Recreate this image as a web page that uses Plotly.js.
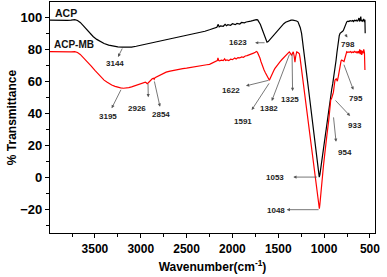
<!DOCTYPE html>
<html><head><meta charset="utf-8">
<script src="https://cdn.plot.ly/plotly-3.0.1.min.js"></script>
<style>html,body{margin:0;padding:0;background:#fff}#chart{width:387px;height:277px}</style>
</head><body><div id="chart"></div>
<script>
// ACP (black) spectrum
const acpWn = [3990,3900,3800,3760,3720,3690,3660,3630,3600,3560,3520,3480,3440,3400,3350,3300,3250,3200,3144,3100,3050,3000,2950,2900,2850,2800,2750,2700,2650,2600,2550,2500,2450,2400,2350,2300,2250,2200,2170,2155,2145,2130,2100,2080,2065,2050,2020,2000,1970,1950,1920,1900,1870,1850,1820,1800,1780,1760,1740,1725,1710,1695,1680,1665,1650,1640,1630,1623,1610,1595,1580,1560,1540,1520,1500,1480,1460,1440,1420,1400,1380,1360,1340,1320,1300,1285,1270,1260,1246,1235,1220,1205,1190,1183,1170,1155,1140,1125,1110,1099,1085,1070,1060,1053,1046,1040,1030,1020,1008,995,980,964,950,943,930,917,906,899,890,880,870,860,850,845,835,826,815,805,798,790,780,770,760,753,740,730,717,700,690,680,670,660,650,640,630,620,615,610,600,595,590,580,570,560,555,552];
const acpT = [98.2,98.0,98.1,98.3,98.6,98.0,96.8,95.0,93.0,90.3,88.0,86.2,84.8,83.6,82.6,81.9,81.5,81.3,81.2,81.4,81.9,82.5,83.1,83.8,84.5,85.2,85.8,86.4,87.0,87.5,88.2,88.8,89.3,89.8,90.6,91.3,92.2,93.2,93.8,95.6,94.0,94.6,94.4,95.6,94.8,95.4,95.0,96.0,95.4,96.2,95.8,96.8,96.6,97.1,97.2,97.6,97.9,98.3,98.6,98.4,97.2,95.5,93.2,90.5,87.8,86.0,84.8,84.4,84.8,85.8,87.0,88.3,89.6,91.2,92.6,93.8,95.0,96.0,96.9,97.5,97.9,98.2,98.3,98.1,97.7,97.2,95.5,93.5,90.0,85.5,78.5,71.0,64.0,61.0,55.0,48.0,41.0,34.0,26.5,19.5,12.0,5.5,1.5,0.0,1.5,4.0,8.5,13.5,19.1,25.0,31.0,36.5,41.5,45.0,50.0,55.0,58.5,61.0,64.5,68.5,73.0,78.0,83.0,85.5,88.5,90.0,90.8,91.0,91.3,91.8,93.0,94.5,96.3,97.2,97.6,97.4,97.9,97.6,98.0,97.4,98.1,97.8,98.3,97.6,98.2,99.6,97.8,98.0,100.5,97.5,98.3,97.6,99.0,97.0,98.5,90.0];

// ACP-MB (red) spectrum
const mbWn = [3990,3900,3800,3760,3720,3690,3660,3630,3600,3572,3540,3500,3460,3426,3400,3370,3340,3317,3280,3250,3220,3190,3160,3130,3100,3063,3030,3000,2970,2950,2940,2930,2920,2905,2890,2875,2862,2854,2845,2820,2800,2760,2723,2680,2650,2600,2542,2500,2450,2400,2359,2320,2280,2250,2220,2200,2176,2165,2158,2150,2140,2120,2100,2085,2075,2060,2040,2020,2000,1975,1960,1940,1920,1900,1880,1860,1840,1812,1790,1770,1750,1740,1728,1715,1700,1690,1680,1668,1655,1642,1632,1625,1615,1605,1597,1590,1580,1565,1550,1538,1520,1500,1480,1460,1448,1430,1410,1395,1380,1368,1354,1345,1336,1326,1318,1310,1299,1285,1270,1262,1255,1245,1236,1227,1210,1190,1170,1150,1135,1120,1105,1090,1078,1066,1058,1052,1046,1038,1030,1020,1008,996,986,970,949,940,928,917,910,899,890,881,868,856,845,835,826,815,808,795,783,770,760,753,740,730,720,710,700,690,680,670,660,650,640,630,620,612,605,598,590,582,575,568,560,555];
const mbT = [78.5,78.3,78.4,78.4,78.5,78.0,76.8,75.0,73.5,72.0,69.5,66.8,64.2,62.0,60.7,59.5,58.4,57.6,56.8,56.2,55.8,55.6,55.7,56.0,56.5,57.1,57.8,58.4,59.0,59.4,59.0,58.4,58.9,60.0,61.0,61.5,61.9,61.2,62.2,63.0,63.6,64.7,65.7,66.3,66.7,67.3,67.9,68.2,68.6,68.9,69.2,69.7,70.3,70.6,71.4,71.8,72.3,72.9,74.6,73.0,72.8,73.2,72.9,74.0,73.0,73.4,72.9,73.8,73.5,74.5,73.9,74.8,74.6,75.2,75.0,75.8,76.0,76.5,77.0,77.6,78.2,78.6,78.2,76.8,74.5,72.5,70.5,68.5,67.0,65.5,64.5,63.5,62.0,61.0,60.6,61.5,63.0,65.0,66.5,67.9,69.5,71.0,72.3,73.6,74.3,75.6,76.8,77.6,78.4,77.4,76.2,77.5,78.4,75.5,72.0,75.5,78.4,78.0,77.2,74.5,71.3,66.0,62.0,58.5,51.0,42.5,34.0,25.5,19.1,12.0,5.0,-3.0,-10.0,-16.0,-19.0,-19.8,-17.0,-11.0,-5.0,1.0,6.6,13.0,19.1,26.0,35.8,40.5,48.3,49.5,50.5,53.0,57.0,60.8,61.5,60.0,63.0,66.5,70.2,72.8,73.3,72.7,72.3,75.0,77.5,78.5,78.0,78.4,78.1,78.6,77.9,78.3,78.0,78.7,78.2,78.5,77.6,78.8,77.5,80.0,77.0,79.5,76.5,79.0,77.5,80.0,78.0,67.0];

// Peak labels (text) and series names
const seriesNames = ["ACP", "ACP-MB"];
const peakLabels = ["3144","3195","2926","2854","1623","1622","1591","1382","1325","798","795","933","954","1053","1048"];
// label placement: [labelX, labelY, arrowTipX, arrowTipY, curveX, curveY]
const labelPlacement = [
  [3281,71.4, 3248,75.2, 3194,81.4],
  [3357,37.7, 3317,43.1, 3208,55.6],
  [3041,42.7, 2918,50.0, 2921,59.3],
  [2779,38.9, 2790,44.0, 2855,60.8],
  [1939,84.1, 1753,84.1, 1633,84.1],
  [2015,54.1, 1852,57.1, 1590,60.8],
  [1884,34.6, 1790,42.0, 1590,59.6],
  [1601,42.7, 1571,47.7, 1372,77.7],
  [1372,48.3, 1344,53.9, 1350,77.7],
  [739,83.3, 746,87.3, 779,90.2],
  [652,48.9, 681,54.6, 790,71.3],
  [663,32.1, 717,38.3, 891,48.9],
  [772,15.4, 870,22.1, 899,38.3],
  [1535,0.0, 1336,0.0, 1063,0.0],
  [1530,-20.9, 1408,-20.4, 1044,-20.4]
];

const FONT = "Arial, 'Liberation Sans', sans-serif";
const traces = [
  {x: acpWn, y: acpT, type: "scatter", mode: "lines", name: seriesNames[0],
   line: {color: "#000000", width: 1.2}},
  {x: mbWn, y: mbT, type: "scatter", mode: "lines", name: seriesNames[1],
   line: {color: "#ff0000", width: 1.2}}
];

const annotations = [];
peakLabels.forEach((t, i) => {
  const p = labelPlacement[i];
  annotations.push({x: p[2], y: p[3], ax: p[4], ay: p[5], xref: "x", yref: "y", axref: "x", ayref: "y",
    text: "", showarrow: true, arrowhead: 2, arrowsize: 0.8, arrowwidth: 0.8, arrowcolor: "#555", standoff: 0, startstandoff: 0});
  annotations.push({x: p[0], y: p[1], xref: "x", yref: "y", text: "<b>" + t + "</b>", showarrow: false,
    font: {family: FONT, size: 8, color: "#222"}, xanchor: "center", yanchor: "middle"});
});
annotations.push({x: 3958, y: 102.7, xref: "x", yref: "y", text: "<b>" + seriesNames[0] + "</b>", showarrow: false,
  xanchor: "left", yanchor: "middle", font: {family: FONT, size: 10.5, color: "#111"}});
annotations.push({x: 3968, y: 83.1, xref: "x", yref: "y", text: "<b>" + seriesNames[1] + "</b>", showarrow: false,
  xanchor: "left", yanchor: "middle", font: {family: FONT, size: 10, color: "#111"}});

const layout = {
  width: 387, height: 277,
  margin: {l: 50, r: 12, t: 2, b: 44},
  paper_bgcolor: "#fff", plot_bgcolor: "#fff",
  showlegend: false,
  font: {family: FONT, color: "#000"},
  xaxis: {
    range: [3990, 445], tickvals: [3500,3000,2500,2000,1500,1000,500],
    ticks: "outside", ticklen: 4, tickwidth: 1, tickcolor: "#000",
    minor: {tickvals: [3750,3250,2750,2250,1750,1250,750], ticks: "outside", ticklen: 2.5, tickcolor: "#000"},
    showline: true, linecolor: "#000", linewidth: 1.2, mirror: true, showgrid: false, zeroline: false,
    tickfont: {family: FONT, size: 12, color: "#000", weight: "bold"},
    title: {text: "<b>Wavenumber(cm<sup>-1</sup>)</b>", font: {family: FONT, size: 12, color: "#000"}, standoff: 8}
  },
  yaxis: {
    range: [-35, 109.6], tickvals: [-20,0,20,40,60,80,100],
    ticks: "outside", ticklen: 4, tickwidth: 1, tickcolor: "#000",
    minor: {tickvals: [-30,-10,10,30,50,70,90], ticks: "outside", ticklen: 2.5, tickcolor: "#000"},
    showline: true, linecolor: "#000", linewidth: 1.2, mirror: true, showgrid: false, zeroline: false,
    tickfont: {family: FONT, size: 13, color: "#000", weight: "bold"},
    title: {text: "<b>% Transmittance</b>", font: {family: FONT, size: 12, color: "#000"}, standoff: 1}
  },
  annotations: annotations
};
Plotly.newPlot("chart", traces, layout, {staticPlot: true, displayModeBar: false});
</script></body></html>
